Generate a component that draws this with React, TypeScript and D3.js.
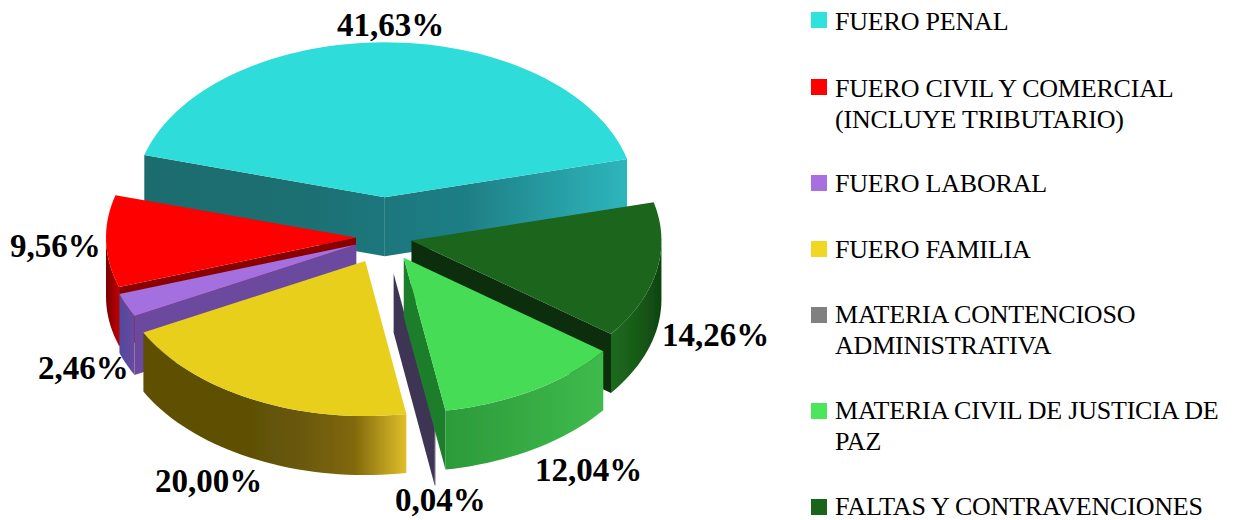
import React from "react";
import * as d3 from "d3";

// values, in the order of the legend
const categories = [
  ["FUERO PENAL"],
  ["FUERO CIVIL Y COMERCIAL", "(INCLUYE TRIBUTARIO)"],
  ["FUERO LABORAL"],
  ["FUERO FAMILIA"],
  ["MATERIA CONTENCIOSO", "ADMINISTRATIVA"],
  ["MATERIA CIVIL DE JUSTICIA DE", "PAZ"],
  ["FALTAS Y CONTRAVENCIONES"],
];
const values = [41.63, 9.56, 2.46, 20.0, 0.04, 12.04, 14.26];

// colours
const legendColors = ["#2fe3dd", "#ff0000", "#a86fe0", "#efd723", "#808080", "#4ce65c", "#17641a"];
const topColors = ["#2fdcd9", "#fe0000", "#a46fe0", "#e8cf1f", "#55506a", "#46dc55", "#1a651a"];
const faceStops = [
  ["#1b6c6e", "#1c6f72", "#1f7f86", "#2fb8bf"],
  ["#8a0000", "#8a0000"],
  ["#6b4a9e", "#6b4a9e"],
  ["#6a5a0a", "#6a5a0a"],
  ["#3d3553", "#3d3553"],
  ["#1f7d2c", "#1f7d2c"],
  ["#082f08", "#082f08"],
];
const arcStops = [
  ["#1b6c6e", "#1b6c6e"],
  ["#7a0000", "#c00000"],
  ["#4f4a9e", "#6b4a9e"],
  ["#5e5006", "#5e5006", "#5e5006", "#6a5808", "#80680c", "#e0bf2a"],
  ["#3d3553", "#3d3553"],
  ["#2c9a3a", "#3fbb4c"],
  ["#1d6a1d", "#185c18", "#0f4410"],
];

// layout
const cx = 384;
const cy = 237;
const rx = 250;
const ry = 155;
const depth = 59;
const squash = 0.64;
const startDeg = 345.7; // screen angle where the first slice begins (clockwise from +x)
const explode = [62, 28, 30, 42, 58, 38, 28];
const paintOrder = [0, 1, 2, 3, 6, 4, 5];
const labelPos = [
  [337, 36],
  [10, 257],
  [38, 379],
  [155, 492],
  [395, 511],
  [535, 481],
  [662, 346],
];
const legendSquareY = [12, 79, 175, 241, 307, 403, 499];
const legendBaseY = [30, 97, 192, 258, 323, 419, 515];

const rad = Math.PI / 180;
const line = d3.line();

const pieAngles = d3.pie<number>().sort(null)(values);

const slices = pieAngles.map((p, i) => {
  // d3.pie goes clockwise from the top; the picture runs the other way round
  const a0 = startDeg - (p.endAngle / rad);
  const a1 = startDeg - (p.startAngle / rad);
  const mid = ((a0 + a1) / 2) * rad;
  const ax = cx + explode[i] * Math.cos(mid);
  const ay = cy + explode[i] * squash * Math.sin(mid);
  const pt = (deg: number, dy = 0): [number, number] => [
    ax + rx * Math.cos(deg * rad),
    ay + ry * Math.sin(deg * rad) + dy,
  ];
  const arc = (from: number, to: number, dy = 0) => {
    const n = Math.max(2, Math.ceil((to - from) / 2));
    return d3.range(n + 1).map((k) => pt(from + ((to - from) * k) / n, dy));
  };
  const top = line([[ax, ay], ...arc(a0, a1)]) + "Z";
  const faces: string[] = [];
  if (Math.cos(a0 * rad) < 0)
    faces.push(line([[ax, ay], pt(a0), pt(a0, depth), [ax, ay + depth]]) + "Z");
  if (Math.cos(a1 * rad) > 0)
    faces.push(line([[ax, ay], pt(a1), pt(a1, depth), [ax, ay + depth]]) + "Z");
  const from = Math.max(a0, 0);
  const to = Math.min(a1, 180);
  const wall =
    from < to
      ? line([...arc(from, to), ...arc(from, to, depth).reverse()]) + "Z"
      : null;
  const fx: [number, number] = [ax - rx, ax + rx];
  const wx: [number, number] = [pt(to)[0], pt(from)[0]];
  return { i, ax, top, faces, wall, fx, wx };
});

function Gradient({ id, stops, x }: { id: string; stops: string[]; x: [number, number] }) {
  return (
    <linearGradient id={id} gradientUnits="userSpaceOnUse" x1={x[0]} x2={x[1]} y1={0} y2={0}>
      {stops.map((c, k) => (
        <stop key={k} offset={k / (stops.length - 1)} stopColor={c} />
      ))}
    </linearGradient>
  );
}

export default function App() {
  return (
    <svg
      width={1236}
      height={520}
      style={{ position: "absolute", left: 0, top: 0, background: "#fff" }}
      fontFamily="'Liberation Serif', serif"
    >
      <defs>
        <filter id="soft" x="-5%" y="-5%" width="110%" height="110%">
          <feGaussianBlur stdDeviation="0.6" />
        </filter>
        {slices.map((s) => (
          <React.Fragment key={s.i}>
            <Gradient id={`face${s.i}`} stops={faceStops[s.i]} x={s.fx} />
            <Gradient id={`arc${s.i}`} stops={arcStops[s.i]} x={s.wx} />
          </React.Fragment>
        ))}
      </defs>

      <g filter="url(#soft)">
        {paintOrder.map((i) => {
          const s = slices[i];
          return (
            <g key={i}>
              {s.faces.map((d, k) => (
                <path key={k} d={d} fill={`url(#face${i})`} />
              ))}
              {s.wall && <path d={s.wall} fill={`url(#arc${i})`} />}
              <path d={s.top} fill={topColors[i]} />
            </g>
          );
        })}
      </g>

      {values.map((v, i) => (
        <text
          key={i}
          x={labelPos[i][0]}
          y={labelPos[i][1]}
          fontSize={33}
          fontWeight="bold"
          fill="#000"
        >
          {v.toFixed(2).replace(".", ",") + "%"}
        </text>
      ))}

      {categories.map((lines, i) => (
        <g key={i}>
          <rect x={811} y={legendSquareY[i]} width={16} height={16} fill={legendColors[i]} />
          {lines.map((t, k) => (
            <text
              key={k}
              x={835}
              y={legendBaseY[i] + k * 30.5}
              fontSize={26}
              letterSpacing={-0.2}
              fill="#000"
            >
              {t}
            </text>
          ))}
        </g>
      ))}
    </svg>
  );
}
